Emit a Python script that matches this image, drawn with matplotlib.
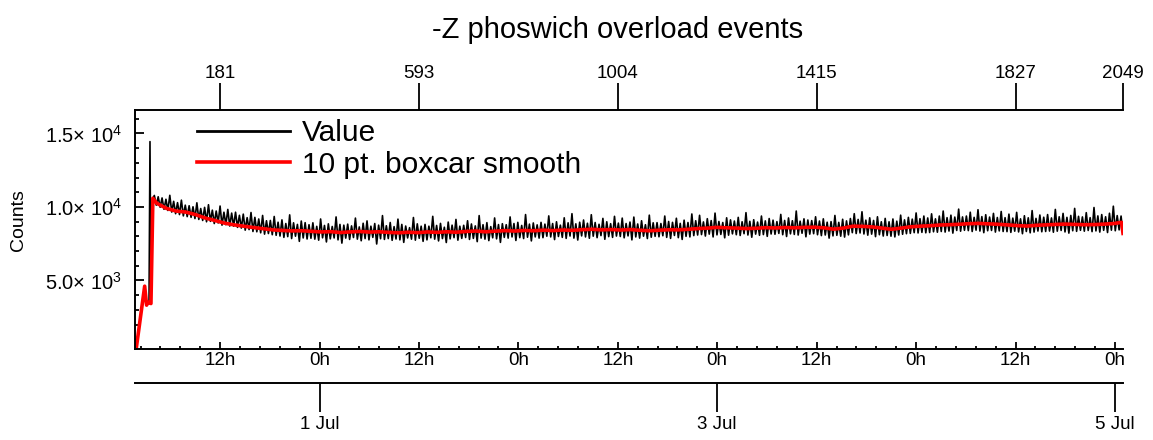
import numpy as np
import matplotlib
matplotlib.use("Agg")
import matplotlib.pyplot as plt
import matplotlib.dates as mdates
from matplotlib.ticker import FixedLocator, FixedFormatter, MultipleLocator, NullLocator, FuncFormatter

plt.rcParams['font.family'] = ['Liberation Sans', 'DejaVu Sans']
plt.rcParams['mathtext.fontset'] = 'custom'
plt.rcParams['mathtext.rm'] = 'Liberation Sans'
plt.rcParams['mathtext.it'] = 'Liberation Sans:italic'
plt.rcParams['mathtext.default'] = 'regular'

# sample index -> time (3.5 min cadence)
start_time = np.datetime64('2019-06-30T01:26:30')
cadence_s = 210

# raw counts, early points then every 4th sample
early_idx = [8, 25, 29, 32, 34, 36, 38, 42]
early_vals = [480, 4610, 3320, 3540, 3400, 14440, 3430, 10590]
value_idx = early_idx + list(range(45, 2050, 4))
values = early_vals + [
    10780, 10120, 10690, 9980, 10610, 9840, 10520, 9760, 10790, 9650, 10380, 9540, 10290, 9480, 10460, 9390, 10120, 9340, 10080, 9290,
    10010, 9210, 10280, 9150, 9890, 9080, 9970, 8990, 10150, 9020, 9780, 8870, 9720, 8910, 10060, 8760, 9640, 8790, 9830, 8700,
    9580, 8690, 9640, 8610, 9430, 8560, 9510, 8420, 9270, 8460, 9620, 8330, 9290, 8310, 9180, 8240, 9420, 8150, 9060, 8190,
    9080, 8110, 9350, 8070, 8960, 8020, 9120, 7930, 8870, 7980, 9460, 7850, 8920, 8010, 8810, 7660, 9040, 7890, 8930, 7820,
    8790, 7870, 8920, 7810, 8680, 7740, 9180, 7900, 8740, 7620, 8850, 7830, 8670, 7890, 9320, 7760, 8810, 7540, 8760, 7880,
    8830, 7790, 8710, 7920, 9240, 7810, 8640, 7700, 8890, 7850, 9050, 7760, 8690, 7930, 8870, 7480, 8760, 7840, 9410, 7790,
    8720, 7850, 8940, 7730, 8660, 7820, 9170, 7760, 8810, 7590, 8700, 7890, 8590, 7810, 9280, 7740, 8850, 7870, 8690, 7660,
    8810, 7760, 8690, 7900, 9360, 7810, 8740, 7690, 8880, 7850, 8620, 7580, 8970, 7830, 8760, 7910, 9150, 7740, 8690, 7860,
    8750, 7920, 9060, 7790, 8840, 7860, 8710, 7640, 9410, 7880, 8790, 7810, 8930, 7710, 8660, 7900, 9250, 7830, 8800, 7590,
    8860, 7930, 8790, 7880, 9320, 7960, 8870, 7720, 8950, 7910, 8740, 7850, 9480, 7940, 8830, 7690, 8910, 7960, 8780, 7880,
    8950, 7910, 8830, 8010, 9390, 7960, 8870, 7780, 8990, 7990, 8760, 7930, 9260, 7860, 8920, 8020, 9540, 7880, 8850, 7750,
    8960, 8030, 9110, 7960, 8890, 7870, 9470, 8010, 8940, 7910, 8820, 8050, 9220, 7800, 8990, 7980, 8860, 7930, 9360, 8020,
    8900, 7990, 9240, 7900, 8870, 8030, 8970, 7760, 9310, 7960, 8840, 7880, 9060, 8010, 8790, 7850, 9440, 7940, 8920, 8000,
    8930, 7970, 8870, 8040, 9380, 7930, 9010, 7860, 8950, 8060, 9230, 7910, 8880, 7790, 9100, 8000, 8940, 7960, 9520, 8050,
    9060, 8090, 9430, 8120, 8980, 8020, 9200, 8150, 9070, 7960, 9580, 8100, 9010, 8130, 8940, 7900, 9260, 8080, 9120, 8170,
    9040, 8110, 9290, 8060, 8990, 8180, 9610, 8090, 9020, 7940, 9130, 8150, 8970, 8070, 9380, 8120, 9050, 8000, 9210, 8160,
    9100, 8140, 9000, 8200, 9490, 8110, 9080, 7990, 9250, 8170, 9060, 8130, 9720, 8090, 9030, 8210, 9190, 7970, 9110, 8150,
    9070, 8180, 9330, 8110, 9040, 8050, 9190, 8090, 8960, 7880, 9000, 8030, 9420, 8070, 8950, 8010, 9160, 7950, 9050, 8100,
    9210, 8250, 9540, 8190, 9150, 8230, 9670, 8160, 9100, 8080, 9260, 8150, 9080, 7980, 9330, 8110, 8990, 8020, 9220, 8060,
    8990, 8010, 9180, 7960, 9030, 8090, 9440, 8140, 9120, 8180, 9290, 8200, 9170, 8250, 9590, 8230, 9200, 8270, 9380, 8240,
    9250, 8260, 9530, 8310, 9190, 8280, 9380, 8330, 9720, 8290, 9270, 8360, 9440, 8220, 9310, 8400, 9850, 8350, 9320, 8410,
    9380, 8390, 9640, 8330, 9290, 8420, 9810, 8360, 9340, 8250, 9470, 8380, 9310, 8400, 9560, 8290, 9280, 8370, 9690, 8330,
    9270, 8320, 9510, 8270, 9240, 8350, 9630, 8300, 9190, 8180, 9400, 8330, 9260, 8240, 9750, 8290, 9220, 8360, 9450, 8310,
    9300, 8330, 9480, 8360, 9250, 8280, 9830, 8350, 9330, 8400, 9560, 8300, 9290, 8220, 9420, 8380, 9900, 8340, 9360, 8410,
    9320, 8350, 9610, 8400, 9270, 8320, 9960, 8370, 9390, 8290, 9480, 8410, 9330, 8260, 9570, 8420, 10050, 8380, 9410, 8440,
    9380, 8150,
]

# smoothed curve
smooth_idx = [8, 25, 29, 32, 38, 42] + list(range(50, 2031, 20)) + [2046, 2049]
smooth_vals = [480, 4610, 3320, 3540, 3430, 10590,
    10250, 9900, 9720, 9650, 9480, 9250, 9080, 8900, 8780, 8690,
    8600, 8520, 8440, 8400, 8370, 8380, 8340, 8300, 8320, 8260,
    8300, 8330, 8290, 8310, 8270, 8240, 8280, 8250, 8300, 8270,
    8310, 8280, 8330, 8360, 8310, 8350, 8390, 8360, 8400, 8380,
    8420, 8390, 8430, 8410, 8450, 8480, 8440, 8460, 8430, 8460,
    8410, 8380, 8420, 8450, 8440, 8480, 8530, 8560, 8610, 8580,
    8560, 8530, 8550, 8590, 8570, 8600, 8580, 8610, 8620, 8580,
    8490, 8560, 8690, 8680, 8640, 8560, 8480, 8560, 8650, 8690,
    8720, 8770, 8790, 8820, 8860, 8880, 8850, 8820, 8780, 8730,
    8700, 8750, 8780, 8810, 8830, 8810, 8790, 8800, 8830, 8870,
    8950, 8200]

top_ticks = [181, 593, 1004, 1415, 1827, 2049]
y_ticks = [5000, 10000, 15000]
y_ticklabels = ['5.0× 10$^{3}$', '1.0× 10$^{4}$', '1.5× 10$^{4}$']


def idx_to_time(i):
    return start_time + np.asarray(i) * np.timedelta64(cadence_s, 's')


x0 = mdates.date2num(start_time)
step_days = cadence_s / 86400.0


def num_to_idx(x):
    return (np.asarray(x) - x0) / step_days


def idx_to_num(i):
    return x0 + np.asarray(i) * step_days


fig = plt.figure(figsize=(11.53, 4.4), dpi=100)
ax = fig.add_axes([135 / 1153, 91 / 440, 988 / 1153, 239 / 440])

ax.plot(idx_to_time(value_idx), values, color='black', lw=1.2, label='Value')
ax.plot(idx_to_time(smooth_idx), smooth_vals, color='#ff0000', lw=2.6, label='10 pt. boxcar smooth')

ax.set_xlim(idx_to_time(5), idx_to_time(2049))
ax.set_ylim(340, 16590)

for s in ['top', 'right']:
    ax.spines[s].set_visible(False)
for s in ['left', 'bottom']:
    ax.spines[s].set_linewidth(1.4)

fs = 13.5

# y axis
ax.yaxis.set_major_locator(FixedLocator(y_ticks))
ax.yaxis.set_major_formatter(FixedFormatter(y_ticklabels))
ax.yaxis.set_minor_locator(MultipleLocator(1000))
ax.tick_params(axis='y', which='major', direction='in', length=6.5, width=1.3, pad=9, labelsize=14.5)
ax.tick_params(axis='y', which='minor', direction='in', length=3.2, width=1.3)

# bottom time-of-day axis
ax.xaxis.set_major_locator(MultipleLocator(0.5))
ax.xaxis.set_minor_locator(MultipleLocator(0.1))
ax.xaxis.set_major_formatter(FuncFormatter(lambda x, p: f"{mdates.num2date(x).hour}h"))
ax.tick_params(axis='x', which='major', direction='in', length=5.3, width=1.3, pad=2.5, labelsize=fs)
ax.tick_params(axis='x', which='minor', direction='in', length=2.5, width=1.3)

# date axis below
dax = ax.secondary_xaxis(-0.142)
dax.xaxis.set_major_locator(mdates.DayLocator(bymonthday=[1, 3, 5]))
dax.xaxis.set_minor_locator(NullLocator())
dax.xaxis.set_major_formatter(FuncFormatter(lambda x, p: mdates.num2date(x).strftime('%d %b').lstrip('0')))
dax.tick_params(axis='x', direction='out', length=21, width=1.3, pad=2.5, labelsize=fs)
dax.spines['bottom'].set_linewidth(1.4)

# sample index axis on top
tax = ax.secondary_xaxis('top', functions=(num_to_idx, idx_to_num))
tax.xaxis.set_major_locator(FixedLocator(top_ticks))
tax.xaxis.set_minor_locator(NullLocator())
tax.tick_params(axis='x', direction='out', length=19.5, width=1.3, pad=1, labelsize=fs)
tax.spines['top'].set_linewidth(1.4)

fig.text(618 / 1153, 1 - 38 / 440, '-Z phoswich overload events', fontsize=21,
         ha='center', va='baseline')
fig.text(18.5 / 1153, 1 - 220 / 440, 'Counts', fontsize=14, rotation=90,
         ha='center', va='center')

leg = ax.legend(loc='upper left', bbox_to_anchor=(197 / 1153, 1 - 119 / 440),
                bbox_transform=fig.transFigure, frameon=False, fontsize=21.5,
                handlelength=3.1, handletextpad=0.4, labelspacing=0.12,
                borderpad=0, borderaxespad=0)
leg.get_lines()[0].set_linewidth(2.0)

fig.savefig('out.png', dpi=100)
